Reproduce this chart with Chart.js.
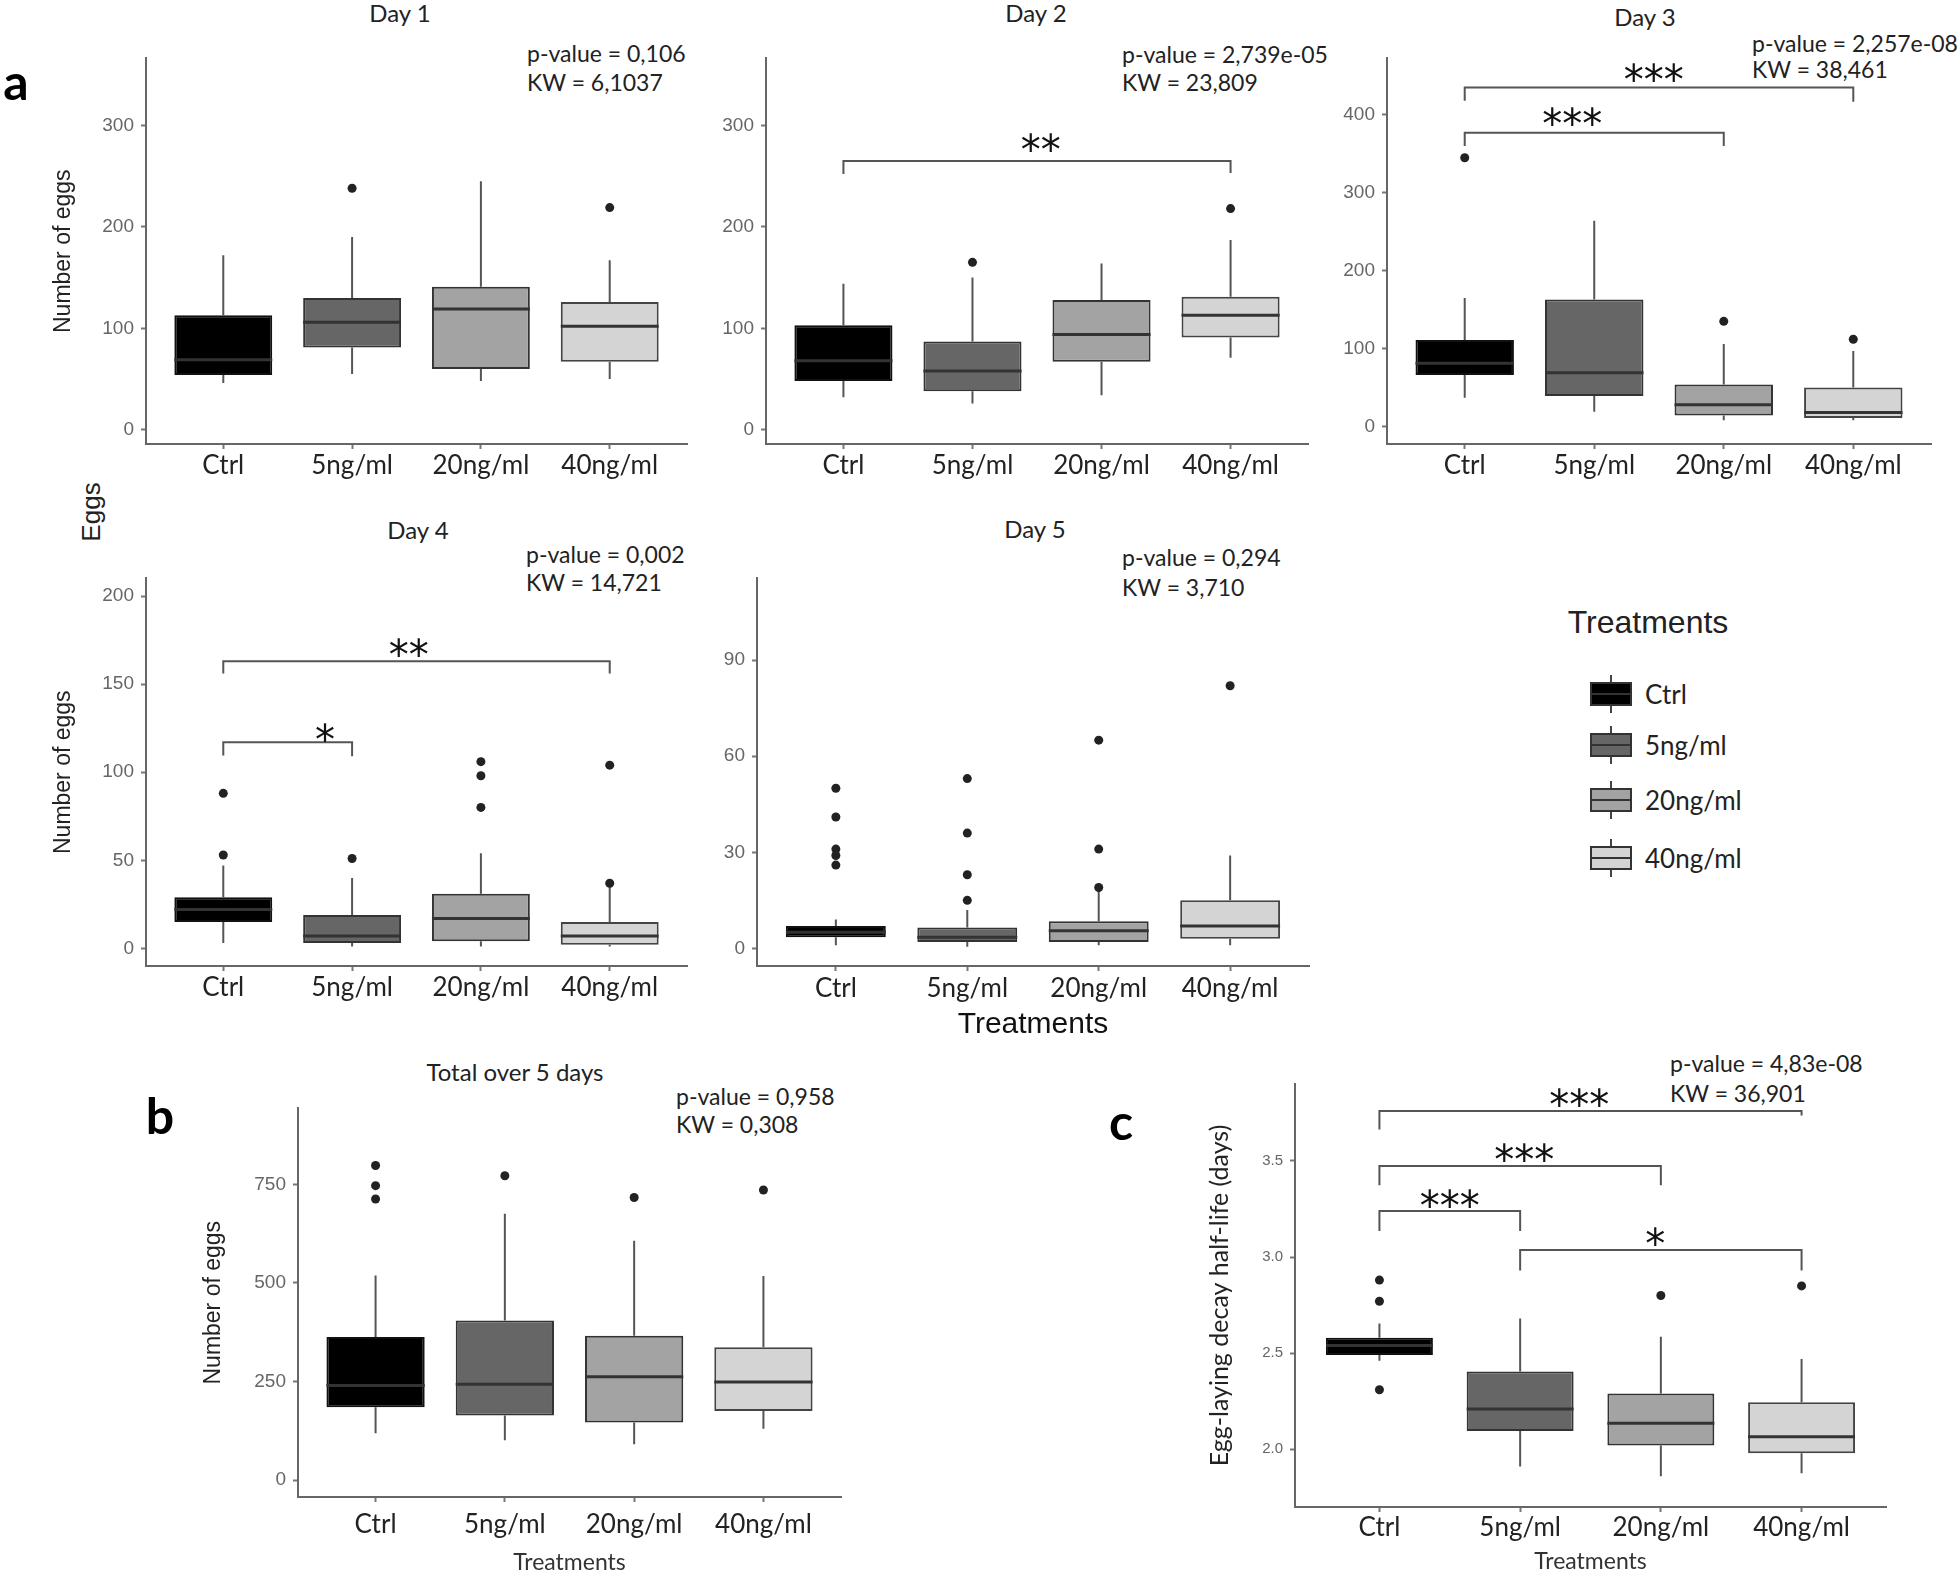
<!DOCTYPE html>
<html>
<head>
<meta charset="utf-8">
<title>Eggs by treatment</title>
<script src="https://cdn.jsdelivr.net/npm/chart.js@4.4.1/dist/chart.umd.min.js"></script>
<style>
  body { margin: 0; background: #fff; }
  #fig { position: relative; width: 1960px; height: 1577px; overflow: hidden; font-family: Lato, sans-serif; color: #222; }
  #fig canvas { position: absolute; }
  .t { position: absolute; white-space: nowrap; line-height: 1; transform: translate(-50%, -50%); }
  .stat { position: absolute; white-space: nowrap; line-height: 1; font-size: 23px; transform: translateY(-50%); }
  .ptitle { font-size: 24px; }
  .letter { font-size: 50px; font-weight: bold; color: #000; }
  .key { position: absolute; width: 42px; height: 38px; }
  .key .w { position: absolute; left: 20px; top: 0; width: 2px; height: 38px; background: #444; }
  .key .b { position: absolute; left: 0; top: 7px; width: 38px; height: 20px; border: 2px solid #333; }
  .key .m { position: absolute; left: 0; top: 18px; width: 42px; height: 2px; background: #333; }
</style>
</head>
<body>
<div id="fig">
  <div class="t letter" style="left:16px;top:81px">a</div>
  <div class="t letter" style="left:160px;top:1115px">b</div>
  <div class="t letter" style="left:1121px;top:1121px">c</div>
  <div class="t" style="left:91px;top:512px;font-family:'Liberation Sans';font-size:26px;transform:translate(-50%,-50%) rotate(-90deg)">Eggs</div>

  <div class="t ptitle" style="left:400px;top:13px">Day 1</div>
  <div class="t ptitle" style="left:1036px;top:13px">Day 2</div>
  <div class="t ptitle" style="left:1645px;top:17px">Day 3</div>
  <div class="t ptitle" style="left:418px;top:530px">Day 4</div>
  <div class="t ptitle" style="left:1035px;top:529px">Day 5</div>
  <div class="t ptitle" style="left:515px;top:1072px">Total over 5 days</div>

  <div class="stat" style="left:527px;top:53px">p-value = 0,106</div>
  <div class="stat" style="left:527px;top:82px">KW = 6,1037</div>
  <div class="stat" style="left:1122px;top:54px">p-value = 2,739e-05</div>
  <div class="stat" style="left:1122px;top:82px">KW = 23,809</div>
  <div class="stat" style="left:1752px;top:43px">p-value = 2,257e-08</div>
  <div class="stat" style="left:1752px;top:69px">KW = 38,461</div>
  <div class="stat" style="left:526px;top:554px">p-value = 0,002</div>
  <div class="stat" style="left:526px;top:582px">KW = 14,721</div>
  <div class="stat" style="left:1122px;top:557px">p-value = 0,294</div>
  <div class="stat" style="left:1122px;top:587px">KW = 3,710</div>
  <div class="stat" style="left:676px;top:1096px">p-value = 0,958</div>
  <div class="stat" style="left:676px;top:1124px">KW = 0,308</div>
  <div class="stat" style="left:1670px;top:1063px">p-value = 4,83e-08</div>
  <div class="stat" style="left:1670px;top:1093px">KW = 36,901</div>

  <div class="t" style="left:1648px;top:622px;font-family:'Liberation Sans';font-size:32px">Treatments</div>
  <div id="legend"></div>

  <canvas id="day1"></canvas>
  <canvas id="day2"></canvas>
  <canvas id="day3"></canvas>
  <canvas id="day4"></canvas>
  <canvas id="day5"></canvas>
  <canvas id="total"></canvas>
  <canvas id="halflife"></canvas>
</div>
<script>
const categories = ['Ctrl', '5ng/ml', '20ng/ml', '40ng/ml'];

// [lower whisker, Q1, median, Q3, upper whisker] per treatment
const day1Boxes = [[46, 54, 69, 113, 172], [55, 81, 106, 130, 190], [48, 60, 119, 141, 245], [50, 67, 102, 126, 167]];
const day1Outliers = [[], [238], [], [219]];
const day2Boxes = [[32, 48, 68, 103, 144], [26, 38, 58, 87, 150], [34, 67, 94, 128, 164], [71, 91, 113, 131, 187]];
const day2Outliers = [[], [165], [], [218]];
const day3Boxes = [[37, 66, 81, 111, 165], [19, 39, 69, 163, 264], [8, 14, 28, 54, 106], [8, 11, 18, 50, 97]];
const day3Outliers = [[345], [], [135], [112]];
const day4Boxes = [[3, 15, 22, 29, 47], [1, 3, 7, 19, 40], [1, 4, 17, 31, 54], [1, 2, 7, 15, 35]];
const day4Outliers = [[88, 53], [51], [106, 98, 80], [104, 37]];
const day5Boxes = [[1, 3.5, 5, 7, 9], [0.5, 2, 3.5, 6.5, 12], [1, 2, 5.5, 8.5, 18], [1, 3, 7, 15, 29]];
const day5Outliers = [[50, 41, 31, 29, 26], [53, 36, 23, 15], [65, 31, 19], [82]];
const totalBoxes = [[119, 185, 240, 363, 519], [101, 164, 243, 405, 676], [91, 146, 262, 366, 607], [130, 175, 249, 337, 518]];
const totalOutliers = [[798, 747, 713], [772], [717], [736]];
const halfLifeBoxes = [[2.46, 2.49, 2.54, 2.58, 2.655], [1.91, 2.095, 2.21, 2.405, 2.68], [1.86, 2.02, 2.135, 2.29, 2.585], [1.875, 1.98, 2.065, 2.245, 2.47]];
const halfLifeOutliers = [[2.88, 2.77, 2.31], [], [2.8], [2.85]];

// tick values
const day12Ticks = [0, 100, 200, 300];
const day3Ticks = [0, 100, 200, 300, 400];
const day4Ticks = [0, 50, 100, 150, 200];
const day5Ticks = [0, 30, 60, 90];
const totalTicks = [0, 250, 500, 750];
const halfLifeTicks = [2.0, 2.5, 3.0, 3.5];

// significance brackets (category index, data-space heights)
const day2Brackets = [{ from: 1, to: 4, y: 265, legFrom: 252, legTo: 253, stars: '**', starX: 2.53, starY: 284 }];
const day3Brackets = [
    { from: 1, to: 4, y: 435, legFrom: 418, legTo: 417, stars: '***', starX: 2.46, starY: 455 },
    { from: 1, to: 3, y: 377, legFrom: 360, legTo: 360, stars: '***', starX: 1.83, starY: 398 },
];
const day4Brackets = [
    { from: 1, to: 4, y: 163, legFrom: 156, legTo: 156, stars: '**', starX: 2.44, starY: 171 },
    { from: 1, to: 2, y: 117, legFrom: 109.5, legTo: 109, stars: '*', starX: 1.79, starY: 123 },
];
const halfLifeBrackets = [
    { from: 1, to: 4, y: 3.76, legFrom: 3.664, legTo: 3.736, stars: '***', starX: 2.42, starY: 3.83 },
    { from: 1, to: 3, y: 3.473, legFrom: 3.373, legTo: 3.373, stars: '***', starX: 2.03, starY: 3.545 },
    { from: 1, to: 2, y: 3.24, legFrom: 3.136, legTo: 3.136, stars: '***', starX: 1.5, starY: 3.305 },
    { from: 2, to: 4, y: 3.036, legFrom: 2.93, legTo: 2.93, stars: '*', starX: 2.96, starY: 3.11 },
];

const fills = ['#000000', '#666666', '#a3a3a3', '#d4d4d4'];
const edges = ['#111111', '#333333', '#333333', '#444444'];

// whiskers behind the boxes, medians and brackets on top
function boxExtras(boxes, brackets) {
    return {
        id: 'boxExtras',
        beforeDatasetsDraw(chart) {
            const { ctx, scales: { x, y } } = chart;
            ctx.save();
            ctx.strokeStyle = '#555';
            ctx.lineWidth = 2;
            boxes.forEach((b, i) => {
                const px = x.getPixelForValue(i + 1);
                ctx.beginPath();
                ctx.moveTo(px, y.getPixelForValue(b[0]));
                ctx.lineTo(px, y.getPixelForValue(b[1]));
                ctx.moveTo(px, y.getPixelForValue(b[3]));
                ctx.lineTo(px, y.getPixelForValue(b[4]));
                ctx.stroke();
            });
            ctx.restore();
        },
        afterDatasetsDraw(chart) {
            const { ctx, scales: { x, y } } = chart;
            const bars = chart.getDatasetMeta(0).data;
            ctx.save();
            ctx.strokeStyle = '#333';
            ctx.lineWidth = 3;
            bars.forEach((bar, i) => {
                const py = y.getPixelForValue(boxes[i][2]);
                ctx.beginPath();
                ctx.moveTo(bar.x - bar.width / 2, py);
                ctx.lineTo(bar.x + bar.width / 2, py);
                ctx.stroke();
            });

            (brackets || []).forEach(br => {
                const x1 = x.getPixelForValue(br.from);
                const x2 = x.getPixelForValue(br.to);
                const yy = y.getPixelForValue(br.y);
                ctx.strokeStyle = '#555';
                ctx.lineWidth = 2;
                ctx.beginPath();
                ctx.moveTo(x1, y.getPixelForValue(br.legFrom));
                ctx.lineTo(x1, yy);
                ctx.lineTo(x2, yy);
                ctx.lineTo(x2, y.getPixelForValue(br.legTo));
                ctx.stroke();
                ctx.fillStyle = '#111';
                ctx.font = '40px "DejaVu Sans"';
                ctx.textAlign = 'center';
                ctx.textBaseline = 'alphabetic';
                ctx.fillText(br.stars, x.getPixelForValue(br.starX), y.getPixelForValue(br.starY) + 22);
            });
            ctx.restore();
        },
    };
}

function boxChart(id, p) {
    const canvas = document.getElementById(id);
    canvas.width = p.box[2];
    canvas.height = p.box[3];
    canvas.style.left = p.box[0] + 'px';
    canvas.style.top = p.box[1] + 'px';

    const outlierPoints = p.outliers.flatMap((vals, i) => vals.map(v => ({ x: i + 1, y: v })));

    new Chart(canvas.getContext('2d'), {
        type: 'bar',
        data: {
            datasets: [{
                data: p.boxes.map((b, i) => ({ x: i + 1, y: [b[1], b[3]] })),
                backgroundColor: fills,
                borderColor: edges,
                borderWidth: 2,
                borderSkipped: false,
                barPercentage: 0.76,
                categoryPercentage: 1,
            }, {
                type: 'scatter',
                data: outlierPoints,
                pointRadius: 4.5,
                pointBackgroundColor: '#222',
                pointBorderWidth: 0,
            }],
        },
        options: {
            responsive: false,
            animation: false,
            events: [],
            layout: { padding: { top: p.pt, right: p.pr, left: 0, bottom: 0 } },
            plugins: { legend: { display: false }, tooltip: { enabled: false } },
            scales: {
                x: {
                    type: 'linear',
                    min: 0.4,
                    max: 4.6,
                    offset: false,
                    grid: { drawOnChartArea: false, drawTicks: true, tickLength: 5, tickWidth: 2, tickColor: '#777', offset: false },
                    border: { display: true, color: '#666', width: 2 },
                    afterBuildTicks: (axis) => { axis.ticks = categories.map((c, i) => ({ value: i + 1 })); },
                    afterFit: (axis) => { axis.height = p.xh; },
                    ticks: {
                        callback: (v) => categories[Math.round(v) - 1],
                        autoSkip: false,
                        maxRotation: 0,
                        padding: p.xpad,
                        color: '#222',
                        font: { family: 'Lato', size: 26 },
                    },
                    title: p.xTitle || { display: false },
                },
                y: {
                    type: 'linear',
                    min: p.min,
                    max: p.max,
                    grid: { drawOnChartArea: false, drawTicks: true, tickLength: 5, tickWidth: 2, tickColor: '#777' },
                    border: { display: true, color: '#666', width: 2 },
                    afterBuildTicks: (axis) => { axis.ticks = p.ticks.map(v => ({ value: v })); },
                    afterFit: (axis) => { axis.width = p.yw; },
                    ticks: {
                        callback: p.tickFormat || ((v) => String(v)),
                        padding: 7,
                        color: '#666',
                        font: { family: 'Liberation Sans', size: p.tickSize || 19 },
                    },
                    title: p.yTitle || { display: false },
                },
            },
        },
        plugins: [boxExtras(p.boxes, p.brackets)],
    });
}

const eggsTitle = {
    display: true, text: 'Number of eggs', color: '#222',
    font: { family: 'Liberation Sans', size: 23 }, padding: { top: 50, bottom: 0 },
};

boxChart('day1', { box: [0, 40, 700, 450], yw: 146, pt: 15, pr: 13, xh: 46, xpad: 1,
    min: -14, max: 366, ticks: day12Ticks, boxes: day1Boxes, outliers: day1Outliers, yTitle: eggsTitle });
boxChart('day2', { box: [706, 40, 620, 450], yw: 60, pt: 17, pr: 18, xh: 46, xpad: 1,
    min: -14, max: 366, ticks: day12Ticks, boxes: day2Boxes, outliers: day2Outliers, brackets: day2Brackets });
boxChart('day3', { box: [1327, 40, 625, 450], yw: 60, pt: 15, pr: 21, xh: 46, xpad: 1,
    min: -22.5, max: 472.5, ticks: day3Ticks, boxes: day3Boxes, outliers: day3Outliers, brackets: day3Brackets });
boxChart('day4', { box: [0, 560, 700, 450], yw: 146, pt: 17, pr: 13, xh: 44, xpad: 1,
    min: -10, max: 210, ticks: day4Ticks, boxes: day4Boxes, outliers: day4Outliers, brackets: day4Brackets, yTitle: eggsTitle });
boxChart('day5', { box: [700, 560, 626, 490], yw: 57, pt: 17, pr: 17, xh: 84, xpad: 2,
    min: -5.5, max: 115.5, ticks: day5Ticks, boxes: day5Boxes, outliers: day5Outliers,
    xTitle: { display: true, text: 'Treatments', color: '#111', font: { family: 'Liberation Sans', size: 30 }, padding: { top: 0, bottom: 7 } } });
boxChart('total', { box: [150, 1090, 700, 487], yw: 148, pt: 18, pr: 9, xh: 80, xpad: 7,
    min: -43, max: 943, ticks: totalTicks, boxes: totalBoxes, outliers: totalOutliers, yTitle: eggsTitle,
    xTitle: { display: true, text: 'Treatments', color: '#333', font: { family: 'Lato', size: 23 }, padding: { top: 0, bottom: 1 } } });
boxChart('halflife', { box: [1190, 1060, 730, 517], yw: 105, pt: 24, pr: 34, xh: 70, xpad: 0,
    min: 1.7, max: 3.9, ticks: halfLifeTicks, boxes: halfLifeBoxes, outliers: halfLifeOutliers, brackets: halfLifeBrackets,
    tickSize: 15, tickFormat: (v) => v.toFixed(1),
    yTitle: { display: true, text: 'Egg-laying decay half-life (days)', color: '#222', font: { family: 'Lato', size: 25 }, padding: { top: 15, bottom: 0 } },
    xTitle: { display: true, text: 'Treatments', color: '#333', font: { family: 'Lato', size: 23 }, padding: { top: 0, bottom: 2 } } });

// legend keys
const legendY = [694, 745, 800, 858];
const legend = document.getElementById('legend');
categories.forEach((name, i) => {
    const key = document.createElement('div');
    key.className = 'key';
    key.style.left = '1590px';
    key.style.top = (legendY[i] - 19) + 'px';
    key.innerHTML = '<div class="w"></div><div class="b" style="background:' + fills[i] + '"></div><div class="m"></div>';
    legend.appendChild(key);
    const label = document.createElement('div');
    label.className = 'stat';
    label.style.left = '1645px';
    label.style.top = legendY[i] + 'px';
    label.style.fontSize = '26px';
    label.textContent = name;
    legend.appendChild(label);
});
</script>
</body>
</html>
